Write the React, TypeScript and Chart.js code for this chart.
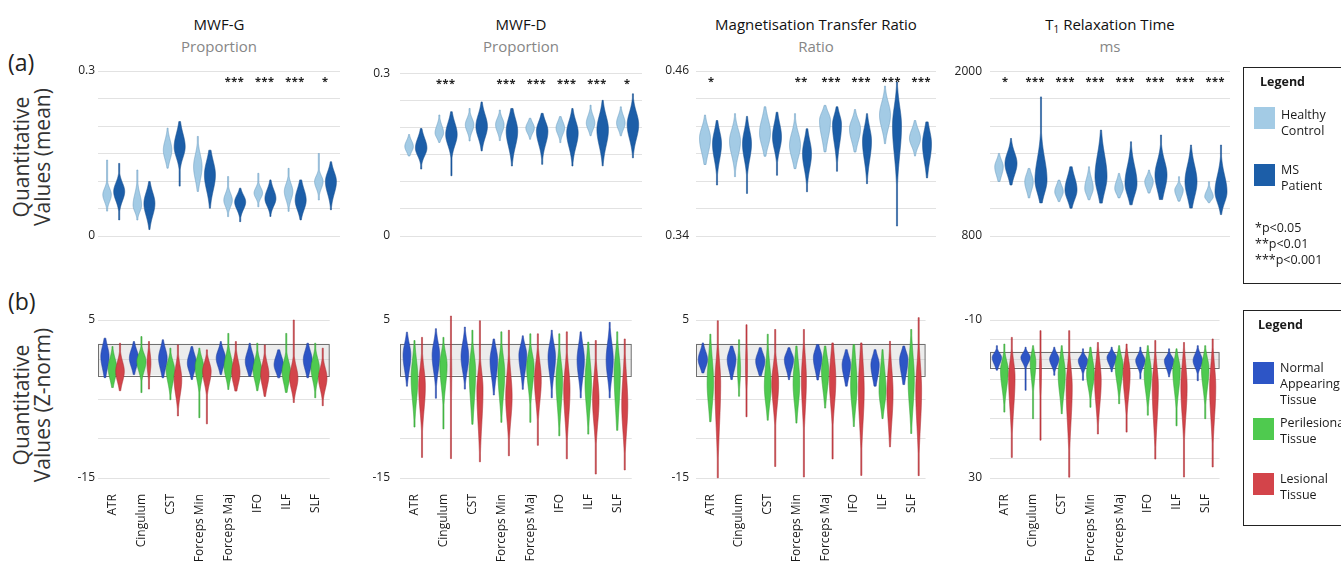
import React, { useEffect, useRef } from "react";
import { Chart, registerables } from "chart.js";

Chart.register(...registerables);

const FONT = "'Open Sans', 'Noto Sans', sans-serif";

const TRACTS = ["ATR", "Cingulum", "CST", "Forceps Min", "Forceps Maj", "IFO", "ILF", "SLF"];

// Each violin: [min, body low, centre, body high, max]
// ---- Row (a): quantitative values (mean)
const mwfgHealthy = [[0.045,0.056,0.075,0.093,0.138],[0.029,0.038,0.056,0.087,0.12],[0.123,0.13,0.156,0.184,0.196],[0.081,0.09,0.126,0.159,0.181],[0.035,0.047,0.065,0.084,0.108],[0.053,0.064,0.078,0.093,0.114],[0.044,0.058,0.081,0.102,0.123],[0.065,0.08,0.099,0.115,0.15]];
const mwfgPatient = [[0.029,0.055,0.081,0.105,0.132],[0.011,0.025,0.059,0.09,0.099],[0.09,0.132,0.162,0.199,0.208],[0.05,0.068,0.111,0.15,0.156],[0.026,0.041,0.062,0.081,0.087],[0.035,0.047,0.068,0.093,0.102],[0.029,0.038,0.065,0.096,0.102],[0.047,0.065,0.099,0.126,0.135]];
const mwfgStars = ["", "", "", "", "***", "***", "***", "*"];

const mwfdHealthy = [[0.147,0.15,0.165,0.181,0.187],[0.172,0.176,0.19,0.211,0.223],[0.175,0.186,0.205,0.223,0.235],[0.175,0.185,0.205,0.223,0.232],[0.178,0.184,0.199,0.214,0.217],[0.172,0.181,0.199,0.217,0.22],[0.184,0.19,0.208,0.229,0.241],[0.184,0.19,0.208,0.229,0.238]];
const mwfdPatient = [[0.123,0.14,0.162,0.19,0.198],[0.111,0.156,0.187,0.22,0.229],[0.156,0.17,0.202,0.235,0.247],[0.129,0.15,0.193,0.229,0.235],[0.132,0.156,0.193,0.22,0.226],[0.129,0.15,0.19,0.223,0.235],[0.129,0.15,0.196,0.235,0.25],[0.144,0.165,0.205,0.24,0.262]];
const mwfdStars = ["", "***", "", "***", "***", "***", "***", "*"];

const mtrHealthy = [[0.392,0.395,0.411,0.423,0.428],[0.383,0.393,0.409,0.422,0.429],[0.398,0.401,0.415,0.43,0.434],[0.389,0.392,0.406,0.42,0.429],[0.401,0.405,0.424,0.433,0.435],[0.401,0.404,0.418,0.428,0.432],[0.407,0.413,0.428,0.442,0.449],[0.398,0.402,0.411,0.421,0.424]];
const mtrPatient = [[0.377,0.39,0.407,0.421,0.424],[0.371,0.39,0.407,0.422,0.427],[0.384,0.398,0.412,0.427,0.43],[0.372,0.383,0.4,0.415,0.418],[0.387,0.4,0.421,0.432,0.434],[0.378,0.388,0.409,0.424,0.429],[0.347,0.388,0.42,0.442,0.452],[0.382,0.388,0.407,0.422,0.423]];
const mtrStars = ["*", "", "", "**", "***", "***", "***", "***"];

const t1Healthy = [[1195,1207,1304,1377,1401],[1074,1098,1195,1280,1292],[1050,1062,1122,1195,1207],[1062,1074,1147,1256,1304],[1074,1086,1147,1232,1256],[1110,1122,1195,1256,1280],[1050,1062,1135,1183,1232],[1040,1050,1086,1150,1195]];
const t1Patient = [[1171,1200,1328,1450,1510],[1038,1062,1207,1450,1813],[1001,1025,1135,1280,1304],[1038,1062,1232,1474,1571],[1025,1050,1183,1377,1486],[1062,1074,1244,1401,1535],[1001,1025,1195,1377,1462],[953,1001,1122,1304,1462]];
const t1Stars = ["*", "***", "***", "***", "***", "***", "***", "***"];

// ---- Row (b): quantitative values (Z-norm)
const zMwfgNormal = [[-2.35,-1.93,0.38,2.4,2.7],[-1.93,-1.5,0.17,1.8,2.27],[-2.35,-1.93,0.17,2.0,2.5],[-2.56,-2.1,-0.46,1.3,1.64],[-1.93,-1.5,0.17,1.7,2.27],[-2.14,-1.93,-0.25,1.5,2.06],[-2.35,-2.1,-0.67,1.0,1.22],[-2.35,-1.93,-0.04,1.7,2.06]];
const zMwfgPeri = [[-3.6,-3.2,-1.1,0.8,1.64],[-4.2,-2.1,-0.25,1.2,2.9],[-5.1,-3.8,-1.3,0.4,1.43],[-7.4,-3.4,-0.88,0.8,1.43],[-3.8,-3.0,-0.88,1.2,3.3],[-4.0,-3.4,-1.3,0.6,2.06],[-4.2,-3.8,-1.5,0.4,3.3],[-4.9,-3.4,-1.1,0.8,2.06]];
const zMwfgLesional = [[-4.0,-3.5,-1.5,0.4,2.06],[-3.8,-2.5,-0.46,1.5,2.27],[-7.2,-5.5,-2.56,0,1.85],[-8.2,-3.8,-1.5,0.2,1.22],[-4.0,-3.8,-1.7,0.6,2.27],[-4.7,-4.2,-1.9,0.2,1.85],[-5.5,-4.5,-2.35,-0.2,5.0],[-5.9,-4.5,-2.35,-0.4,1.43]];
const zMwfgLesionalWidth = [1, 0.45, 1, 1, 1, 1, 1, 1];

const zMwfdNormal = [[-3.4,-2.4,0.54,2.8,3.46],[-4.9,-2.6,0.54,3.0,3.9],[-3.8,-2.4,0.33,3.0,4.1],[-4.5,-3.4,-0.1,2.2,2.6],[-3.8,-2.6,0.54,2.4,3.0],[-4.9,-3.0,0.33,2.8,3.7],[-4.9,-3.4,-0.1,2.8,3.5],[-4.9,-3.4,-0.1,3.25,4.7]];
const zMwfdPeri = [[-8.6,-6.7,-2.4,1.2,2.4],[-8.8,-4.7,-0.7,1.6,2.8],[-8.2,-7.2,-1.5,1.6,3.7],[-8,-6.3,-1.75,1.4,3.5],[-8,-4.7,-0.9,1.4,3.25],[-9.7,-7.6,-2.6,0.75,3.25],[-9.5,-7.6,-3,1.2,2.2],[-9,-8,-1.75,1.8,3.5]];
const zMwfdLesional = [[-12.4,-8,-3.4,0,2.8],[-12.6,-8,-1.75,3,5.5],[-13,-10.5,-3.8,-0.5,4.9],[-12.2,-9.2,-4.7,-0.3,3.7],[-10.9,-6.75,-2.6,0.75,3.25],[-12.6,-9.2,-3.8,0.1,3.5],[-14.5,-9.7,-5.1,-0.9,2.4],[-14,-10.9,-5.7,-0.3,2.6]];
const zMwfdLesionalWidth = [1, 0.25, 1, 1, 1, 1, 1, 1];

const zMtrNormal = [[-1.7,-1.5,-0.02,1.6,2.1],[-2.6,-2.1,0,1.6,1.7],[-2.1,-1.9,-0.2,1.3,1.5],[-2.6,-1.9,-0.02,1.3,1.5],[-2.6,-2.1,0.2,1.8,1.9],[-3.4,-3.0,-0.66,1.0,1.25],[-3.4,-3.2,-0.66,1.0,1.25],[-3.2,-2.8,0,1.5,1.7]];
const zMtrPeri = [[-7.9,-7.3,-3,1.7,3.2],[-4.7,-4,-1.3,1.5,2.5],[-7.7,-6.8,-3.4,0.8,3.2],[-8.1,-7,-3,1.0,1.7],[-6.2,-5.1,-1.5,1.25,1.7],[-8.5,-7.3,-3.4,1.5,1.9],[-7.5,-6.8,-3.9,0.2,1.25],[-9.4,-7.7,-2.6,2.1,3.8]];
const zMtrLesional = [[-15,-11.1,-3,1.25,4.9],[-7.3,-5,-0.9,3,4.4],[-13.6,-7.3,-3,0.2,3.8],[-14.9,-8.1,-2.6,1.7,3.8],[-12.6,-7.3,-2.6,1.7,2.1],[-14.7,-10.2,-3.9,1.7,2.1],[-11.1,-9.8,-4.3,0.4,2.3],[-14.7,-10.7,-3.9,1.0,5.3]];
const zMtrPeriWidth = [1, 0.4, 1, 1, 1, 1, 1, 1];
const zMtrLesionalWidth = [1, 0.3, 1, 0.8, 1, 1, 1, 1];

const zT1Normal = [[-3.5,-2.2,-0.5,2.0,2.8],[-3.1,-2.2,-0.5,1.6,7.9],[-3.1,-2.2,-0.1,2.4,4.1],[-2.7,-1.4,0.3,2.8,5.4],[-3.1,-2.2,-0.5,2.0,3.2],[-3.1,-1.8,0.3,2.8,4.9],[-2.7,-1.4,0.3,3.2,4.5],[-3.5,-2.2,0.3,2.8,5.4]];
const zT1Peri = [[-3.9,-1,2.8,9.6,13.4],[-3.5,-2.7,0.7,7,15],[-3.5,-1.8,3.7,11.3,13.8],[-3.1,-1.8,3.7,8.7,12.1],[-3.5,-2.2,1.6,7.9,11.3],[-3.5,-1.8,3.7,10.4,14.2],[-2.7,-1.4,2.8,10.4,16.8],[-3.5,-1.8,2.4,9.6,15]];
const zT1Lesional = [[-5.6,-1.4,4.5,16.3,24.8],[-7.3,-3,2.4,12,20.5],[-7.3,-0.5,7,20.5,29.8],[-4.3,-1.8,5.4,14.6,18.9],[-3.9,-1.8,3.7,12.1,18.4],[-4.8,-0.5,7,19.7,25.2],[-4.3,-1.4,7,18,29.8],[-5.2,-1.4,7,18.9,27.3]];
const zT1PeriWidth = [1, 0.7, 1, 1, 1, 1, 1, 1];
const zT1LesionalWidth = [1, 0.3, 1, 1, 1, 1, 1, 1];

const NORMAL_BAND = [-2, 2];

const C_HEALTHY = "#a3cbe5";
const C_PATIENT = "#1c5ea8";
const C_NORMAL = "#2d55c6";
const C_PERI = "#4fca4f";
const C_LESION = "#d3444a";

interface SeriesSpec {
  name: string;
  data: number[][];
  fill: string;
  stroke: string;
  width: number;
  scaled?: boolean;
  widthFactor?: number[];
}

interface PanelSpec {
  series: SeriesSpec[];
  min: number;
  max: number;
  step: number;
  reverse?: boolean;
  minLabel: string;
  maxLabel: string;
  stars?: string[];
  band?: number[];
  showX: boolean;
  tickPad: number;
  catPct: number;
}

function drawViolin(ctx: CanvasRenderingContext2D, x: number, p: number[], halfW: number, fill: string, stroke: string) {
  const top = Math.min(p[0], p[4]);
  const bottom = Math.max(p[0], p[4]);
  const mid = p[2];
  const bodyTop = Math.min(p[1], p[3]);
  const bodyBot = Math.max(p[1], p[3]);
  const sigUp = Math.max((mid - bodyTop) / 1.55, 0.5);
  const sigDn = Math.max((bodyBot - mid) / 1.55, 0.5);
  const pts: number[][] = [];
  for (let y = top; y <= bottom + 0.001; y += 0.5) {
    const z = y < mid ? (mid - y) / sigUp : (y - mid) / sigDn;
    const hw = Math.max(halfW * Math.exp(-0.5 * z * z), 0.55);
    pts.push([y, hw]);
  }
  ctx.beginPath();
  pts.forEach(([y, hw], i) => {
    if (i === 0) ctx.moveTo(x + hw, y);
    else ctx.lineTo(x + hw, y);
  });
  for (let i = pts.length - 1; i >= 0; i--) ctx.lineTo(x - pts[i][1], pts[i][0]);
  ctx.closePath();
  ctx.fillStyle = fill;
  ctx.fill();
  ctx.lineWidth = 0.6;
  ctx.strokeStyle = stroke;
  ctx.stroke();
}

function makeViolinPlugin(spec: PanelSpec) {
  return {
    id: "violins",
    beforeDatasetsDraw(chart: any) {
      if (!spec.band) return;
      const { ctx, chartArea: a, scales } = chart;
      const y = scales.y;
      const y1 = y.getPixelForValue(spec.band[0]);
      const y2 = y.getPixelForValue(spec.band[1]);
      const t = Math.min(y1, y2);
      const h = Math.abs(y2 - y1);
      ctx.save();
      ctx.fillStyle = "rgba(200,200,200,0.35)";
      ctx.fillRect(a.left, t, a.right - a.left, h);
      ctx.strokeStyle = "#707070";
      ctx.lineWidth = 1;
      ctx.strokeRect(Math.round(a.left) + 0.5, Math.round(t) + 0.5, a.right - a.left - 1, Math.round(h));
      ctx.restore();
    },
    afterDatasetsDraw(chart: any) {
      const { ctx, chartArea: a, scales } = chart;
      const x = scales.x;
      const y = scales.y;
      const range = Math.abs(spec.max - spec.min);
      ctx.save();
      spec.series.forEach((s, di) => {
        const meta = chart.getDatasetMeta(di);
        s.data.forEach((v, i) => {
          const el = meta.data[i];
          if (!el) return;
          const p = v.map((val) => y.getPixelForValue(val));
          let w = s.width;
          if (s.scaled) {
            const f = Math.abs(v[3] - v[1]) / range;
            w *= Math.min(1.1, Math.max(0.62, Math.pow(0.2 / f, 0.35)));
          }
          if (s.widthFactor) w *= s.widthFactor[i];
          drawViolin(ctx, el.x, p, w / 2, s.fill, s.stroke);
        });
      });
      if (spec.stars) {
        ctx.fillStyle = "#222";
        ctx.font = `bold 11px ${FONT}`;
        ctx.textAlign = "center";
        ctx.textBaseline = "alphabetic";
        spec.stars.forEach((st, i) => {
          if (!st) return;
          const cx = x.getPixelForValue(i);
          const n = st.length;
          for (let k = 0; k < n; k++) {
            ctx.fillText("*", cx + (k - (n - 1) / 2) * 6.5, a.top + 14);
          }
        });
      }
      ctx.restore();
    },
  };
}

function Panel({ spec, left, top, width, height, padTop, xHeight }: { spec: PanelSpec; left: number; top: number; width: number; height: number; padTop: number; xHeight: number }) {
  const ref = useRef<HTMLCanvasElement>(null);
  useEffect(() => {
    const canvas = ref.current;
    if (!canvas) return;
    const chart = new Chart(canvas, {
      type: "bar",
      data: {
        labels: TRACTS,
        datasets: spec.series.map((s) => ({
          label: s.name,
          data: s.data.map((v) => [v[0], v[4]]),
          backgroundColor: "rgba(0,0,0,0)",
          borderWidth: 0,
          categoryPercentage: spec.catPct,
          barPercentage: 1,
        })) as any,
      },
      options: {
        animation: false,
        responsive: false,
        maintainAspectRatio: false,
        events: [],
        layout: { padding: { top: padTop, right: 6, left: 0, bottom: 0 } },
        plugins: { legend: { display: false }, tooltip: { enabled: false } },
        scales: {
          x: {
            grid: { display: false, drawTicks: false },
            border: { display: false },
            ticks: {
              display: spec.showX,
              autoSkip: false,
              minRotation: 90,
              maxRotation: 90,
              padding: 16,
              color: "#1a1a1a",
              font: { family: FONT, size: 12 },
            },
            afterFit: (s: any) => {
              s.height = xHeight;
            },
          },
          y: {
            min: spec.min,
            max: spec.max,
            reverse: !!spec.reverse,
            grid: { color: "#e2e2e2", lineWidth: 1, drawTicks: false },
            border: { display: false },
            ticks: {
              stepSize: spec.step,
              autoSkip: false,
              padding: spec.tickPad,
              color: "#222",
              font: { family: FONT, size: 12 },
              callback: (val: any) => {
                const v = Number(val);
                if (Math.abs(v - spec.max) < 1e-9) return spec.maxLabel;
                if (Math.abs(v - spec.min) < 1e-9) return spec.minLabel;
                return "";
              },
            },
            afterFit: (s: any) => {
              s.width = 60;
            },
          },
        },
      },
      plugins: [makeViolinPlugin(spec)],
    });
    return () => chart.destroy();
  }, []);
  return <canvas ref={ref} width={width} height={height} style={{ position: "absolute", left, top, width, height }} />;
}

const PLOT_X = [[98, 340], [400, 642], [696, 936], [990, 1230]];
const TICK_PAD = [3, 10, 7, 8];

function topSpec(h: number[][], p: number[][], wH: number, wP: number, min: number, max: number, step: number, minLabel: string, maxLabel: string, stars: string[], pad: number): PanelSpec {
  return {
    series: [
      { name: "Healthy Control", data: h, fill: C_HEALTHY, stroke: "#6f9fc2", width: wH },
      { name: "MS Patient", data: p, fill: C_PATIENT, stroke: "#164d8c", width: wP },
    ],
    min, max, step, minLabel, maxLabel, stars, showX: false, tickPad: pad, catPct: 0.8,
  };
}

function botSpec(n: number[][], pe: number[][], l: number[][], peW: number[] | undefined, lW: number[] | undefined, min: number, max: number, step: number, minLabel: string, maxLabel: string, reverse: boolean, pad: number): PanelSpec {
  return {
    series: [
      { name: "Normal Appearing Tissue", data: n, fill: C_NORMAL, stroke: "#22409a", width: 8.5, scaled: true },
      { name: "Perilesional Tissue", data: pe, fill: C_PERI, stroke: "#35a035", width: 8.5, scaled: true, widthFactor: peW },
      { name: "Lesional Tissue", data: l, fill: C_LESION, stroke: "#a83035", width: 8.5, scaled: true, widthFactor: lW },
    ],
    min, max, step, minLabel, maxLabel, reverse, band: NORMAL_BAND, showX: true, tickPad: pad, catPct: 0.78,
  };
}

const TOP_SPECS: PanelSpec[] = [
  topSpec(mwfgHealthy, mwfgPatient, 8.5, 11, 0, 0.3, 0.05, "0", "0.3", mwfgStars, TICK_PAD[0]),
  topSpec(mwfdHealthy, mwfdPatient, 8.5, 11.5, 0, 0.3, 0.05, "0", "0.3", mwfdStars, TICK_PAD[1]),
  topSpec(mtrHealthy, mtrPatient, 11, 9, 0.34, 0.46, 0.02, "0.34", "0.46", mtrStars, TICK_PAD[2]),
  topSpec(t1Healthy, t1Patient, 8.5, 12, 800, 2000, 200, "800", "2000", t1Stars, TICK_PAD[3]),
];

const BOT_SPECS: PanelSpec[] = [
  botSpec(zMwfgNormal, zMwfgPeri, zMwfgLesional, undefined, zMwfgLesionalWidth, -15, 5, 5, "-15", "5", false, TICK_PAD[0]),
  botSpec(zMwfdNormal, zMwfdPeri, zMwfdLesional, undefined, zMwfdLesionalWidth, -15, 5, 5, "-15", "5", false, TICK_PAD[1]),
  botSpec(zMtrNormal, zMtrPeri, zMtrLesional, zMtrPeriWidth, zMtrLesionalWidth, -15, 5, 5, "-15", "5", false, TICK_PAD[2]),
  botSpec(zT1Normal, zT1Peri, zT1Lesional, zT1PeriWidth, zT1LesionalWidth, -10, 30, 5, "-10", "30", true, TICK_PAD[3]),
];

const TITLES = ["MWF-G", "MWF-D", "Magnetisation Transfer Ratio", "T1 Relaxation Time"];
const UNITS = ["Proportion", "Proportion", "Ratio", "ms"];

function Txt({ left, top, width, children, style }: { left: number; top: number; width?: number; children: React.ReactNode; style?: React.CSSProperties }) {
  return (
    <div style={{ position: "absolute", left, top, width, whiteSpace: "nowrap", ...style }}>{children}</div>
  );
}

function Swatch({ left, top, color }: { left: number; top: number; color: string }) {
  return <div style={{ position: "absolute", left, top, width: 21, height: 22, background: color }} />;
}

export default function App() {
  const legText: React.CSSProperties = { fontSize: 12.5, lineHeight: "16px", color: "#1a1a1a" };
  const yTitle: React.CSSProperties = { position: "absolute", width: 220, height: 46, transform: "rotate(-90deg)", textAlign: "center", fontSize: 21, lineHeight: "21px", color: "#333" };
  return (
    <div style={{ position: "fixed", left: 0, top: 0, width: 1341, height: 565, overflow: "hidden", background: "#fff", fontFamily: FONT }}>
      {PLOT_X.map(([l, r], i) => {
        const cx = (l + r) / 2;
        return (
          <React.Fragment key={"t" + i}>
            <Txt left={cx - 160} top={14} width={320} style={{ textAlign: "center", fontSize: 15, lineHeight: "20px", color: "#111", fontWeight: 500 }}>
              {i === 3 ? (<span>T<sub style={{ fontSize: 10, verticalAlign: "-3px" }}>1</sub> Relaxation Time</span>) : TITLES[i]}
            </Txt>
            <Txt left={cx - 160} top={36} width={320} style={{ textAlign: "center", fontSize: 15, lineHeight: "20px", color: "#868686" }}>
              {UNITS[i]}
            </Txt>
          </React.Fragment>
        );
      })}

      <Txt left={8} top={48} style={{ fontSize: 23, lineHeight: "28px", color: "#222" }}>(a)</Txt>
      <Txt left={8} top={287} style={{ fontSize: 23, lineHeight: "28px", color: "#222" }}>(b)</Txt>

      <div style={{ ...yTitle, left: 34 - 110, top: 157 - 23 }}>
        Quantitative<br />Values (mean)
      </div>
      <div style={{ ...yTitle, left: 34 - 110, top: 405 - 23 }}>
        Quantitative<br />Values (Z-norm)
      </div>

      {TOP_SPECS.map((s, i) => (
        <Panel key={"a" + i} spec={s} left={PLOT_X[i][0] - 60} top={56} width={60 + PLOT_X[i][1] - PLOT_X[i][0] + 6} height={200} padTop={15} xHeight={20} />
      ))}
      {BOT_SPECS.map((s, i) => (
        <Panel key={"b" + i} spec={s} left={PLOT_X[i][0] - 60} top={300} width={60 + PLOT_X[i][1] - PLOT_X[i][0] + 6} height={265} padTop={20} xHeight={87} />
      ))}

      {/* Legend (a) */}
      <div style={{ position: "absolute", left: 1243, top: 67, width: 130, height: 217, border: "1.5px solid #222", boxSizing: "border-box" }} />
      <Txt left={1260} top={74} style={{ fontSize: 12.5, lineHeight: "16px", fontWeight: 700, color: "#1a1a1a" }}>Legend</Txt>
      <Swatch left={1254} top={107} color={C_HEALTHY} />
      <Txt left={1281} top={107} style={legText}>Healthy<br />Control</Txt>
      <Swatch left={1254} top={164} color={C_PATIENT} />
      <Txt left={1281} top={162} style={legText}>MS<br />Patient</Txt>
      <Txt left={1255} top={220} style={legText}>*p&lt;0.05<br />**p&lt;0.01<br />***p&lt;0.001</Txt>

      {/* Legend (b) */}
      <div style={{ position: "absolute", left: 1243, top: 310, width: 130, height: 216, border: "1.5px solid #222", boxSizing: "border-box" }} />
      <Txt left={1258} top={317} style={{ fontSize: 12.5, lineHeight: "16px", fontWeight: 700, color: "#1a1a1a" }}>Legend</Txt>
      <Swatch left={1253} top={362} color={C_NORMAL} />
      <Txt left={1280} top={360} style={legText}>Normal<br />Appearing<br />Tissue</Txt>
      <Swatch left={1253} top={418} color={C_PERI} />
      <Txt left={1280} top={415} style={legText}>Perilesional<br />Tissue</Txt>
      <Swatch left={1253} top={473} color={C_LESION} />
      <Txt left={1280} top={471} style={legText}>Lesional<br />Tissue</Txt>
    </div>
  );
}
